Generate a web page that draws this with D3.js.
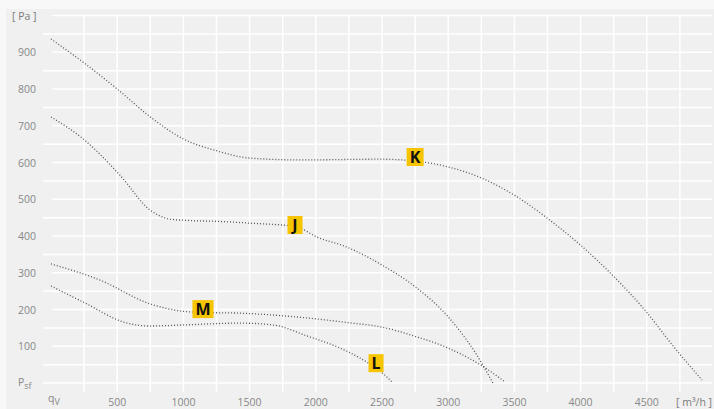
<!DOCTYPE html>
<meta charset="utf-8">
<style>
body { margin: 0; background: #f8f8f8; }
svg { display: block; font-family: "Open Sans", "Noto Sans", sans-serif; }
.tick { fill: #888; font-size: 10.5px; }
.unit { fill: #7a7a7a; font-size: 10.5px; }
.grid line { stroke: #fff; stroke-width: 1.5; }
.curve { fill: none; stroke: #555; stroke-width: 1.3; stroke-dasharray: 1 2; }
.badge rect { fill: #f6c400; }
.badge text { fill: #111; font-size: 16px; font-weight: bold; text-anchor: middle; }
</style>
<body>
<script src="https://cdnjs.cloudflare.com/ajax/libs/d3/7.8.5/d3.min.js"></script>
<script>

// Pa ticks and m3/h ticks
var yTicks = [100, 200, 300, 400, 500, 600, 700, 800, 900],
    xTicks = [500, 1000, 1500, 2000, 2500, 3000, 3500, 4000, 4500];

// curves: [q m3/h, psf Pa]
var curveK = [[0,936],[250,871],[500,800],[750,724],[1000,664],[1250,632],[1500,612],[1880,607],
              [2485,609],[2750,604],[3000,588],[3250,558],[3500,511],[3750,448],[4000,375],
              [4250,290],[4500,192],[4700,100],[4917,8]];
var curveJ = [[0,724],[250,662],[520,566],[750,470],[900,446],[1050,442],[1250,440],[1500,435],[1843,426],
              [2010,397],[2240,369],[2500,321],[2750,262],[3000,180],[3200,85],[3338,0]];
var curveM = [[0,324],[370,280],[750,215],[1000,195],[1148,192],[1430,190],[1934,177],[2250,164],
              [2500,152],[2750,127],[3000,95],[3250,48],[3429,3]];
var curveL = [[0,264],[250,219],[574,163],[750,155],[1000,158],[1430,163],[1677,158],[1934,128],
              [2183,95],[2334,68],[2455,40],[2538,16],[2575,3]];

var curveNames = ["K", "J", "M", "L"];
// label anchor points [q, Pa]
var labelPos = [[2750,615],[1843,430],[1148,201],[2455,54]];

var W = 714, H = 409;

var svg = d3.select("body").append("svg")
    .attr("width", W)
    .attr("height", H);

var x = d3.scaleLinear().domain([0, 5000]).range([51, 713]),
    y = d3.scaleLinear().domain([0, 1000]).range([383, 15.5]);

// panel
svg.append("rect")
    .attr("x", 6).attr("y", 9)
    .attr("width", W - 6).attr("height", H - 9)
    .attr("fill", "#f0f0f0");

var grid = svg.append("g").attr("class", "grid");

grid.selectAll(".h")
    .data(d3.range(0, 1001, 50))
  .enter().append("line")
    .attr("x1", function(d) { return (d % 100 == 0 && d > 0) ? 52 : 43; })
    .attr("x2", 712)
    .attr("y1", function(d) { return y(d); })
    .attr("y2", function(d) { return y(d); });

grid.selectAll(".v")
    .data(d3.range(250, 4751, 250))
  .enter().append("line")
    .attr("x1", function(d) { return x(d); })
    .attr("x2", function(d) { return x(d); })
    .attr("y1", 15)
    .attr("y2", 392);

// y tick labels
svg.selectAll(".ty")
    .data(yTicks)
  .enter().append("text")
    .attr("class", "tick")
    .attr("x", 36)
    .attr("y", function(d) { return y(d) + 4; })
    .attr("text-anchor", "end")
    .text(function(d) { return d; });

// x tick labels
svg.selectAll(".tx")
    .data(xTicks)
  .enter().append("text")
    .attr("class", "tick")
    .attr("x", function(d) { return x(d); })
    .attr("y", 406)
    .attr("text-anchor", "middle")
    .text(function(d) { return d; });

svg.append("text").attr("class", "unit")
    .attr("x", 12).attr("y", 20)
    .text("[ Pa ]");

svg.append("text").attr("class", "unit")
    .attr("x", 712).attr("y", 406)
    .attr("text-anchor", "end")
    .text("[ m³/h ]");

var psf = svg.append("text").attr("class", "tick")
    .attr("x", 18).attr("y", 386);
psf.append("tspan").text("P");
psf.append("tspan").attr("dy", 3).style("font-size", "9px").text("sf");

var qv = svg.append("text").attr("class", "tick")
    .attr("x", 48).attr("y", 402);
qv.append("tspan").text("q");
qv.append("tspan").attr("dy", 3).style("font-size", "9px").text("V");

// curves
var line = d3.line()
    .x(function(d) { return x(d[0]); })
    .y(function(d) { return y(d[1]); })
    .curve(d3.curveMonotoneX);

svg.selectAll(".curve")
    .data([curveK, curveJ, curveM, curveL])
  .enter().append("path")
    .attr("class", "curve")
    .attr("d", line);

// badges
var badge = svg.selectAll(".badge")
    .data(curveNames)
  .enter().append("g")
    .attr("class", "badge")
    .attr("transform", function(d, i) {
      return "translate(" + x(labelPos[i][0]) + "," + y(labelPos[i][1]) + ")";
    });

badge.append("rect");

badge.append("text")
    .attr("y", 6)
    .text(function(d) { return d; });

badge.each(function() {
  var g = d3.select(this),
      bb = g.select("text").node().getBBox(),
      w = Math.max(15, bb.width + 6);
  g.select("rect")
      .attr("x", -w / 2).attr("y", -9)
      .attr("width", w).attr("height", 18);
});

</script>
